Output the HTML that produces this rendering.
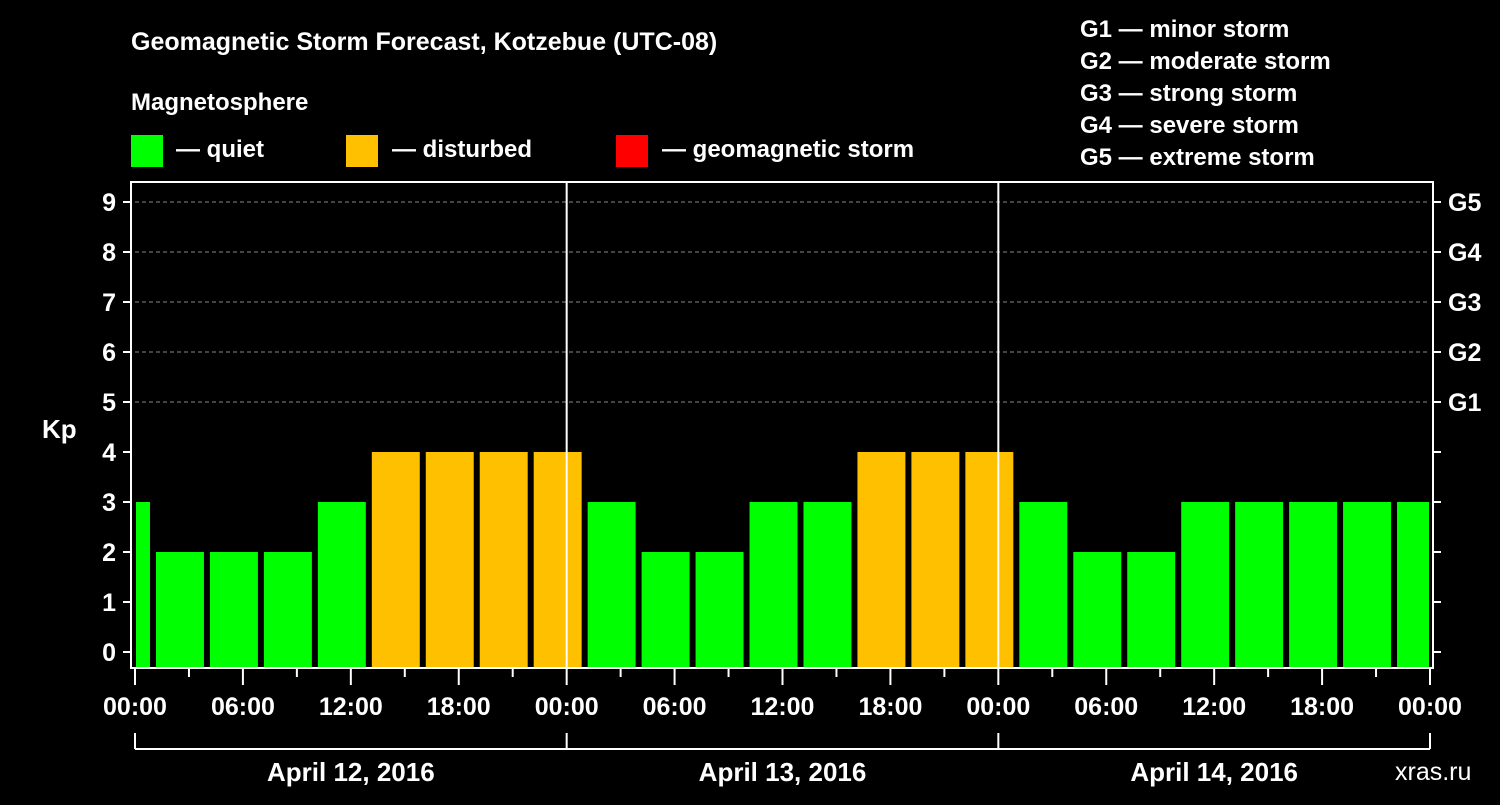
<!DOCTYPE html>
<html><head><meta charset="utf-8"><style>
body{margin:0;background:#000;width:1500px;height:800px;overflow:hidden;font-family:"Liberation Sans",sans-serif}
svg text{font-family:"Liberation Sans",sans-serif;font-weight:bold;fill:#fff}
</style></head><body>
<svg id="c" width="1500" height="800">
<text x="131" y="50" font-size="25">Geomagnetic Storm Forecast, Kotzebue (UTC-08)</text>
<text x="131" y="110" font-size="24">Magnetosphere</text>
<rect x="131" y="135" width="32" height="32" fill="#00ff00"/>
<text x="176" y="157" font-size="24">— quiet</text>
<rect x="346" y="135" width="32" height="32" fill="#ffc000"/>
<text x="392" y="157" font-size="24">— disturbed</text>
<rect x="616" y="135" width="32" height="32" fill="#ff0000"/>
<text x="662" y="157" font-size="24">— geomagnetic storm</text>
<g font-size="24">
<text x="1080" y="37">G1 — minor storm</text>
<text x="1080" y="69">G2 — moderate storm</text>
<text x="1080" y="101">G3 — strong storm</text>
<text x="1080" y="133">G4 — severe storm</text>
<text x="1080" y="165">G5 — extreme storm</text>
</g>
<text x="42" y="438" font-size="26">Kp</text>
<text x="1395" y="780" font-size="25" fill="#fff" style="font-weight:normal">xras.ru</text>
<g id="plot"></g>
</svg>
<script>
const kpValues=[3,2,2,2,3,4,4,4,4,3,2,2,3,3,4,4,4,3,2,2,3,3,3,3,3];
const slotStartHours=-2;
const yTicks=[0,1,2,3,4,5,6,7,8,9];
const gLabels=["G1","G2","G3","G4","G5"];
const xTickLabels=["00:00","06:00","12:00","18:00","00:00","06:00","12:00","18:00","00:00","06:00","12:00","18:00","00:00"];
const dayLabels=["April 12, 2016","April 13, 2016","April 14, 2016"];

const NS="http://www.w3.org/2000/svg";
const g=document.getElementById('plot');
const X0=135,X1=1430,TOP=182,BOT=668;
const xs=h=>X0+(X1-X0)*h/72;
const ys=v=>652-50*v;
function mk(t,a,p){const e=document.createElementNS(NS,t);for(const k in a)e.setAttribute(k,a[k]);(p||g).appendChild(e);return e;}
// grid
for(let v=5;v<=9;v++){const l=mk('line',{x1:X0,x2:X1,y1:ys(v),y2:ys(v),stroke:'#888','stroke-dasharray':'4,3','stroke-width':1});

}
// bars
kpValues.forEach((v,i)=>{
 const h0=slotStartHours+i*3;
 let a=xs(h0)+3,b=xs(h0+3)-3;
 a=Math.max(a,X0+1);b=Math.min(b,X1-1);
 const r=mk('rect',{x:a,y:ys(v),width:b-a,height:BOT-ys(v),fill:v>=5?'#ff0000':(v>=4?'#ffc000':'#00ff00')});
 
 
});
// day lines
[24,48].forEach(h=>{const l=mk('line',{x1:xs(h),x2:xs(h),y1:TOP,y2:BOT,stroke:'#fff','stroke-width':2});

});
// axes frame
const f=mk('rect',{x:131,y:TOP,width:X1+3-131,height:BOT-TOP,fill:'none',stroke:'#fff','stroke-width':2});


yTicks.forEach(v=>{
 mk('line',{x1:123,x2:131,y1:ys(v),y2:ys(v),stroke:'#fff','stroke-width':2});
 mk('line',{x1:X1+3,x2:X1+11,y1:ys(v),y2:ys(v),stroke:'#fff','stroke-width':2});
 const t=mk('text',{x:116,y:ys(v)+9,'font-size':25,'text-anchor':'end'});t.textContent=v;
 
 
});
gLabels.forEach((s,i)=>{const t=mk('text',{x:1448,y:ys(5+i)+9,'font-size':25});t.textContent=s;
 
 });
for(let h=0;h<=72;h+=3){mk('line',{x1:xs(h),x2:xs(h),y1:BOT,y2:BOT+(h%6?9:17),stroke:'#fff','stroke-width':2});}
xTickLabels.forEach((s,i)=>{const t=mk('text',{x:xs(i*6),y:715,'font-size':25,'text-anchor':'middle'});t.textContent=s;
 
 });
mk('line',{x1:xs(0),x2:xs(72),y1:749,y2:749,stroke:'#fff','stroke-width':2});
for(let d=0;d<=3;d++)mk('line',{x1:xs(d*24),x2:xs(d*24),y1:733,y2:749,stroke:'#fff','stroke-width':2});
dayLabels.forEach((s,i)=>{const t=mk('text',{x:xs(i*24+12),y:781,'font-size':26,'text-anchor':'middle'});t.textContent=s;
 
 });
</script>
</body></html>
